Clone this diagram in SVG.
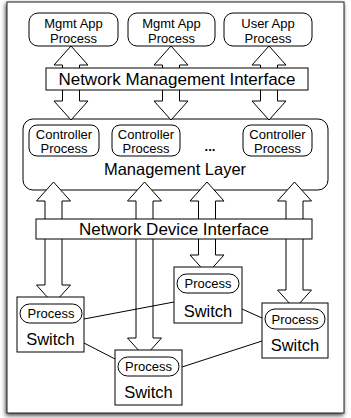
<svg xmlns="http://www.w3.org/2000/svg" width="351" height="418" viewBox="0 0 351 418">
<defs>
<filter id="sh" x="-5%" y="-5%" width="110%" height="110%">
<feGaussianBlur in="SourceAlpha" stdDeviation="2"/>
<feOffset dx="-1" dy="2" result="b"/>
<feFlood flood-color="#000" flood-opacity="0.75"/>
<feComposite in2="b" operator="in"/>
<feMerge><feMergeNode/><feMergeNode in="SourceGraphic"/></feMerge>
</filter>
<style>
.f{fill:#fff;stroke:#222;stroke-width:1}
.b{fill:#fff;stroke:#000;stroke-width:1}
.n{fill:none;stroke:#000;stroke-width:1}
.a{fill:#fff;stroke:#000;stroke-width:1;stroke-linejoin:miter}
.l{stroke:#000;stroke-width:1;fill:none}
text{font-family:"Liberation Sans",Arial,Helvetica,sans-serif;fill:#000;text-anchor:middle}
.s13{font-size:13px}
.s16{font-size:16.5px}
.s17{font-size:17px}
</style>
</defs>
<rect x="7" y="2" width="337" height="411" class="f" filter="url(#sh)"/>
<g id="management-layer">
<rect x="23" y="119" width="305" height="71" rx="10" class="b"/>
<text x="175" y="175" class="s16">Management Layer</text>
<text x="210" y="151" class="s13" style="font-weight:bold">...</text>
</g>
<g id="connectors">
<polygon class="a" points="71,46 88,65 79.5,65 79.5,101 88,101 71,120 54,101 62.5,101 62.5,65 54,65"/>
<polygon class="a" points="171,46 188,65 179.5,65 179.5,101 188,101 171,120 154,101 162.5,101 162.5,65 154,65"/>
<polygon class="a" points="269,46 286,65 277.5,65 277.5,101 286,101 269,120 252,101 260.5,101 260.5,65 252,65"/>
<polygon class="a" points="53.5,182 70.5,201 62,201 62,285 70.5,285 53.5,304 36.5,285 45,285 45,201 36.5,201"/>
<polygon class="a" points="144.5,182 161.5,201 153,201 153,338 161.5,338 144.5,357 127.5,338 136,338 136,201 127.5,201"/>
<polygon class="a" points="207,182 224,201 215.5,201 215.5,255 224,255 207,274 190,255 198.5,255 198.5,201 190,201"/>
<polygon class="a" points="294.5,182 311.5,201 303,201 303,290 311.5,290 294.5,309 277.5,290 286,290 286,201 277.5,201"/>
<line class="l" x1="84" y1="319" x2="174" y2="302"/>
<line class="l" x1="84" y1="343" x2="115" y2="359"/>
<line class="l" x1="242" y1="309" x2="262" y2="318"/>
<line class="l" x1="182" y1="367" x2="262" y2="341"/>
</g>
<g id="mgmt-app-1">
<rect x="29" y="13" width="89" height="33" rx="9" class="n"/>
<text x="73.5" y="28" class="s13">Mgmt App</text>
<text x="73.5" y="43" class="s13">Process</text>
</g>
<g id="mgmt-app-2">
<rect x="128" y="13" width="87" height="33" rx="9" class="n"/>
<text x="171.5" y="28" class="s13">Mgmt App</text>
<text x="171.5" y="43" class="s13">Process</text>
</g>
<g id="user-app">
<rect x="224" y="13" width="88" height="33" rx="9" class="n"/>
<text x="268" y="28" class="s13">User App</text>
<text x="268" y="43" class="s13">Process</text>
</g>
<g id="network-management-interface">
<rect x="46" y="68" width="262" height="22" class="b"/>
<text x="177" y="85" class="s17">Network Management Interface</text>
</g>
<g id="controller-1">
<rect x="29" y="125" width="70" height="31" rx="8" class="b"/>
<text x="64" y="139" class="s13">Controller</text>
<text x="64" y="153" class="s13">Process</text>
</g>
<g id="controller-2">
<rect x="112" y="125" width="68" height="31" rx="8" class="b"/>
<text x="146" y="139" class="s13">Controller</text>
<text x="146" y="153" class="s13">Process</text>
</g>
<g id="controller-3">
<rect x="243" y="125" width="69" height="31" rx="8" class="b"/>
<text x="277.5" y="139" class="s13">Controller</text>
<text x="277.5" y="153" class="s13">Process</text>
</g>
<g id="network-device-interface">
<rect x="36" y="219" width="276" height="20" class="b"/>
<text x="174" y="235" class="s17">Network Device Interface</text>
</g>
<g id="switch-left">
<rect x="17" y="297" width="67" height="55" class="b"/>
<rect x="20" y="304" width="62" height="19" rx="9.5" class="b"/>
<text x="51" y="318" class="s13">Process</text>
<text x="50.5" y="345" class="s16">Switch</text>
</g>
<g id="switch-middle">
<rect x="174" y="267" width="68" height="56" class="b"/>
<rect x="177" y="274" width="62" height="19" rx="9.5" class="b"/>
<text x="208" y="288" class="s13">Process</text>
<text x="208" y="317" class="s16">Switch</text>
</g>
<g id="switch-right">
<rect x="262" y="303" width="66" height="55" class="b"/>
<rect x="265" y="309" width="60" height="20" rx="10" class="b"/>
<text x="295" y="324" class="s13">Process</text>
<text x="295" y="351" class="s16">Switch</text>
</g>
<g id="switch-bottom">
<rect x="115" y="350" width="67" height="55" class="b"/>
<rect x="118" y="357" width="61" height="19" rx="9.5" class="b"/>
<text x="148.5" y="371" class="s13">Process</text>
<text x="148.5" y="398" class="s16">Switch</text>
</g>
</svg>
